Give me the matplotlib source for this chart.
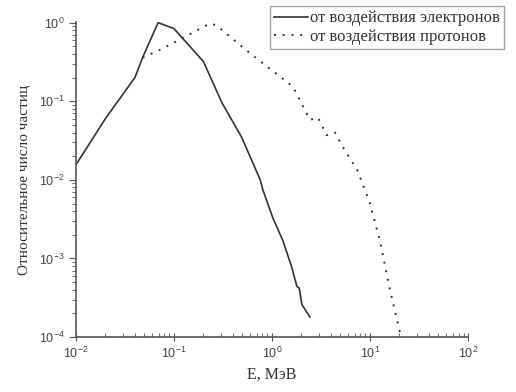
import matplotlib
matplotlib.use("Agg")
from matplotlib import pyplot as plt

# спектр от воздействия электронов
e_el = [0.01, 0.02, 0.04, 0.048, 0.069, 0.1, 0.2, 0.31, 0.49, 0.76, 0.81,
        1.02, 1.29, 1.58, 1.8, 1.9, 2.02, 2.44]
n_el = [0.0155, 0.06, 0.2, 0.36, 1.0, 0.84, 0.32, 0.095, 0.035, 0.01, 0.0074,
        0.0033, 0.0017, 8e-4, 4.4e-4, 4.2e-4, 2.6e-4, 1.8e-4]

# спектр от воздействия протонов
e_pr = [0.048, 0.072, 0.13, 0.23, 0.27, 0.51, 0.72, 0.85, 1.64, 2.44, 2.95,
        3.6, 4.4, 5.3, 7.4, 9.5, 10.0, 12.6, 16.0, 20.4]
n_pr = [0.36, 0.45, 0.66, 0.97, 0.93, 0.48, 0.34, 0.29, 0.153, 0.058, 0.062,
        0.037, 0.04, 0.026, 0.0134, 0.006, 0.005, 0.0017, 4e-4, 1.1e-4]

fig = plt.figure(figsize=(5.16, 3.92), dpi=100)
ax = fig.add_axes([0.147, 0.140, 0.760, 0.804])

ax.plot(e_el, n_el, color="#333333", lw=1.2, label="от воздействия электронов")
ax.plot(e_pr, n_pr, color="#333333", lw=1.4, ls=(0, (1, 3.5)),
        label="от воздействия протонов")

ax.set_xscale("log")
ax.set_yscale("log")
ax.set_xlim(1e-2, 1e2)
ax.set_ylim(1e-4, 1.02)

for s in ["top", "right"]:
    ax.spines[s].set_visible(False)
for s in ["left", "bottom"]:
    ax.spines[s].set_color("#555555")
    ax.spines[s].set_linewidth(1.2)

ax.tick_params(axis="x", which="major", direction="inout", length=6, color="#555555")
ax.tick_params(axis="x", which="minor", direction="in", length=3, color="#555555")
ax.tick_params(axis="y", which="major", direction="out", length=5, color="#555555")
ax.tick_params(axis="y", which="minor", direction="out", length=3, color="#555555")
ax.tick_params(labelsize=9, labelcolor="#444444", pad=3)
for lab in ax.get_xticklabels() + ax.get_yticklabels():
    lab.set_family("Liberation Sans")

ax.set_xlabel("E, МэВ", family="Liberation Serif", fontsize=11.5, color="#333333")
ax.set_ylabel("Относительное число частиц", family="Liberation Serif",
              fontsize=11, color="#333333", labelpad=6)

leg = ax.legend(loc="upper right", bbox_to_anchor=(1.092, 1.05),
                prop={"family": "Liberation Serif", "size": 12},
                frameon=True, fancybox=False, handlelength=2.0,
                handletextpad=0.15, borderpad=0.25, labelspacing=0.15,
                borderaxespad=0)
leg.get_frame().set_edgecolor("#888888")
leg.get_frame().set_linewidth(1.0)
for t in leg.get_texts():
    t.set_color("#333333")

fig.savefig("out.png", dpi=100)
